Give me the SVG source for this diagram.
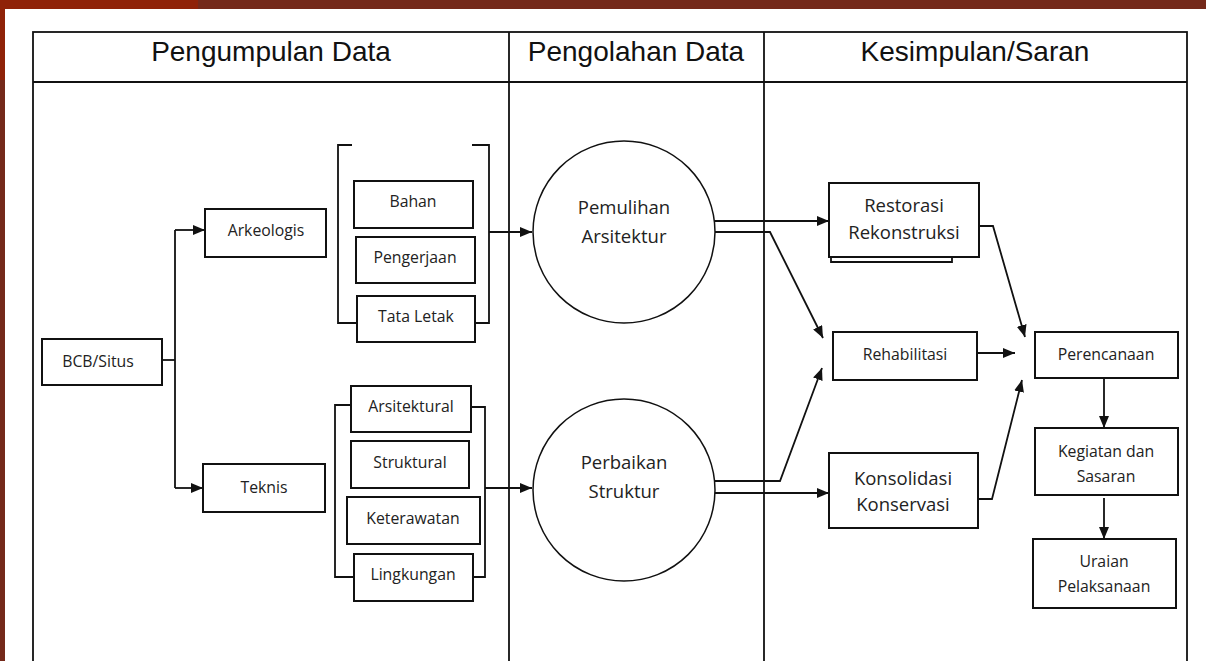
<svg xmlns="http://www.w3.org/2000/svg" width="1206" height="661" viewBox="0 0 1206 661">
<defs>
<style>
.ln{fill:none;stroke:#111;stroke-width:1.8}
.bx{fill:#fff;stroke:#111;stroke-width:2}
.t{font-family:"Open Sans","Noto Sans",sans-serif;font-size:15.8px;fill:#222;text-anchor:middle}
.tc{font-family:"Open Sans","Noto Sans",sans-serif;font-size:18.5px;fill:#222;text-anchor:middle}
.h{font-family:"Liberation Sans",Arial,sans-serif;font-size:28px;fill:#111;text-anchor:middle}
</style>
<marker id="ar" viewBox="0 0 12 10" refX="12" refY="5" markerWidth="12" markerHeight="10" markerUnits="userSpaceOnUse" orient="auto">
<path d="M0,0 L12,5 L0,10 Z" fill="#111"/>
</marker>
</defs>
<rect x="0" y="0" width="1206" height="661" fill="#fff"/>
<rect x="0" y="0" width="1206" height="9" fill="#74291a"/>
<rect x="0" y="0" width="198" height="9" fill="#8f2208"/>
<rect x="0" y="0" width="5" height="661" fill="#74291a"/>
<rect x="0" y="0" width="5" height="80" fill="#8f2208"/>
<g id="table">
<rect x="33" y="32" width="1154" height="640" fill="none" stroke="#111" stroke-width="1.8"/>
<line x1="33" y1="82" x2="1187" y2="82" stroke="#111" stroke-width="1.8"/>
<line x1="509" y1="32" x2="509" y2="661" stroke="#111" stroke-width="1.8"/>
<line x1="764" y1="32" x2="764" y2="661" stroke="#111" stroke-width="1.8"/>
<text class="h" x="271" y="61">Pengumpulan Data</text>
<text class="h" x="636" y="61">Pengolahan Data</text>
<text class="h" x="975" y="61">Kesimpulan/Saran</text>
</g>
<g id="connectors">
<path class="ln" d="M162,360 H175"/>
<path class="ln" d="M175,230 V488"/>
<path class="ln" d="M175,230 H205" marker-end="url(#ar)"/>
<path class="ln" d="M175,488 H203" marker-end="url(#ar)"/>
<path class="ln" d="M352,145 H338 V323 H357"/>
<path class="ln" d="M472,145 H489 V323 H475"/>
<path class="ln" d="M489,232 H532" marker-end="url(#ar)"/>
<path class="ln" d="M351,405 H335 V577 H354"/>
<path class="ln" d="M471,407 H485 V577 H473"/>
<path class="ln" d="M485,488 H532" marker-end="url(#ar)"/>
<path class="ln" d="M714,221 H829" marker-end="url(#ar)"/>
<path class="ln" d="M715,232 H770 L823,338" marker-end="url(#ar)"/>
<path class="ln" d="M715,481 H780 L822,368" marker-end="url(#ar)"/>
<path class="ln" d="M715,493 H829" marker-end="url(#ar)"/>
<path class="ln" d="M977,353 H1015" marker-end="url(#ar)"/>
<path class="ln" d="M979,226 H993 L1025,337" marker-end="url(#ar)"/>
<path class="ln" d="M978,499 H992 L1022,380" marker-end="url(#ar)"/>
<path class="ln" d="M1104,378 V428" marker-end="url(#ar)"/>
<path class="ln" d="M1104,498 V539" marker-end="url(#ar)"/>
</g>
<g id="bcb"><rect class="bx" x="42" y="339" width="120" height="46"/><text class="t" x="98" y="367">BCB/Situs</text></g>
<g id="arkeologis"><rect class="bx" x="205" y="209" width="121" height="48"/><text class="t" x="266" y="236">Arkeologis</text></g>
<g id="teknis"><rect class="bx" x="203" y="464" width="122" height="48"/><text class="t" x="264" y="493">Teknis</text></g>
<g id="bahan"><rect class="bx" x="354" y="181" width="119" height="47"/><text class="t" x="413" y="207">Bahan</text></g>
<g id="pengerjaan"><rect class="bx" x="356" y="237" width="119" height="46"/><text class="t" x="415" y="263">Pengerjaan</text></g>
<g id="tataletak"><rect class="bx" x="357" y="296" width="118" height="46"/><text class="t" x="416" y="322">Tata Letak</text></g>
<g id="arsitektural"><rect class="bx" x="351" y="386" width="120" height="46"/><text class="t" x="411" y="412">Arsitektural</text></g>
<g id="struktural"><rect class="bx" x="351" y="441" width="118" height="47"/><text class="t" x="410" y="468">Struktural</text></g>
<g id="keterawatan"><rect class="bx" x="347" y="497" width="133" height="47"/><text class="t" x="413" y="524">Keterawatan</text></g>
<g id="lingkungan"><rect class="bx" x="354" y="554" width="119" height="47"/><text class="t" x="413" y="580">Lingkungan</text></g>
<g id="pemulihan"><circle cx="624" cy="232" r="91" fill="#fff" stroke="#111" stroke-width="1.5"/><text class="tc" x="624" y="214">Pemulihan</text><text class="tc" x="624" y="243">Arsitektur</text></g>
<g id="perbaikan"><circle cx="624" cy="490" r="91" fill="#fff" stroke="#111" stroke-width="1.5"/><text class="tc" x="624" y="469">Perbaikan</text><text class="tc" x="624" y="498">Struktur</text></g>
<g id="restorasi"><path class="ln" d="M831,257 V262 H952 V257"/><rect class="bx" x="829" y="183" width="150" height="74"/><text class="tc" x="904" y="212">Restorasi</text><text class="tc" x="904" y="239">Rekonstruksi</text></g>
<g id="rehabilitasi"><rect class="bx" x="833" y="332" width="144" height="48"/><text class="t" x="905" y="360">Rehabilitasi</text></g>
<g id="konsolidasi"><rect class="bx" x="829" y="453" width="149" height="75"/><text class="tc" x="903" y="485">Konsolidasi</text><text class="tc" x="903" y="511">Konservasi</text></g>
<g id="perencanaan"><rect class="bx" x="1035" y="332" width="143" height="46"/><text class="t" x="1106" y="360">Perencanaan</text></g>
<g id="kegiatan"><rect class="bx" x="1035" y="428" width="143" height="67"/><text class="t" x="1106" y="457">Kegiatan dan</text><text class="t" x="1106" y="482">Sasaran</text></g>
<g id="uraian"><rect class="bx" x="1033" y="539" width="143" height="69"/><text class="t" x="1104" y="567">Uraian</text><text class="t" x="1104" y="592">Pelaksanaan</text></g>
</svg>
